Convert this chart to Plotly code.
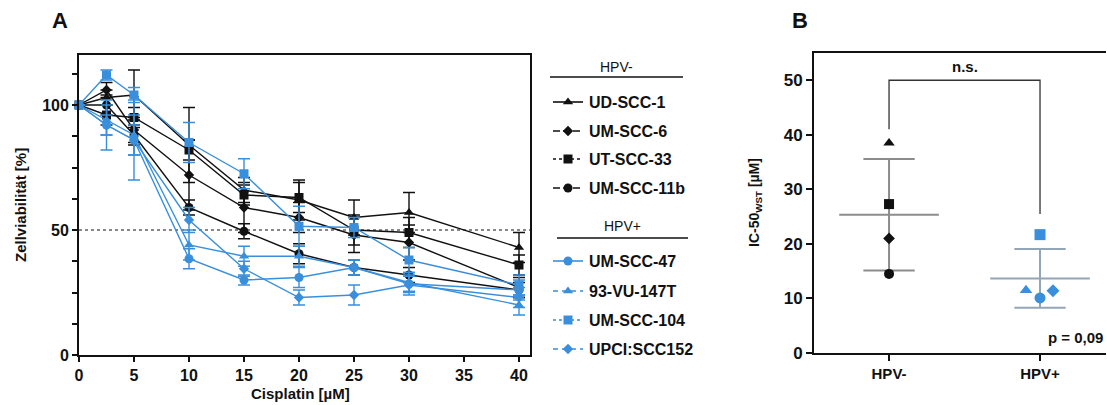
import numpy as np
import plotly.graph_objects as go

W, H = 1107, 405

# ---------------- data ----------------
conc = [0, 2.5, 5, 10, 15, 20, 25, 30, 40]  # cisplatin [µM]

# HPV-negative cell lines: viability [%] and SD
ud_scc_1 = [100, 103, 104, 84, 66, 62, 55, 57, 43]
ud_scc_1_sd = [0, 3, 10, 15, 5, 8, 7, 8, 6]
um_scc_6 = [100, 106, 90, 72, 59, 55, 48, 45, 27]
um_scc_6_sd = [0, 3, 5, 14, 10, 6, 7, 7, 4]
ut_scc_33 = [100, 96, 95, 82, 64, 63, 50, 49, 36]
ut_scc_33_sd = [0, 4, 4, 4, 4, 6, 6, 6, 4]
um_scc_11b = [100, 100, 88, 59, 49.5, 40.5, 35, 32, 26]
um_scc_11b_sd = [0, 4, 4, 3, 3, 4, 3, 3, 3]

# HPV-positive cell lines
um_scc_47 = [100, 92, 86, 38.5, 30, 31, 35, 28.5, 26]
um_scc_47_sd = [0, 4, 6, 4, 2, 4, 3, 3, 4]
vu_147t = [100, 94, 88, 44, 39.5, 39.5, 35, 29, 20]
vu_147t_sd = [0, 6, 8, 6, 4, 4, 3, 4, 4]
um_scc_104 = [100, 112, 104, 85, 72.5, 51.5, 51, 38, 28]
um_scc_104_sd = [0, 2, 3, 8, 6, 8, 4, 5, 4]
upci_scc152 = [100, 92, 86, 54, 34.5, 23, 24, 28, 23]
upci_scc152_sd = [0, 10, 16, 5, 3, 3, 4, 4, 4]

y_ticks_a = [0, 50, 100]
x_ticks_a = [0, 5, 10, 15, 20, 25, 30, 35, 40]

# IC-50 (WST) per cell line [µM]
groups = ["HPV-", "HPV+"]
ic50_hpv_neg = [38.5, 21.0, 27.3, 14.5]   # UD-SCC-1, UM-SCC-6, UT-SCC-33, UM-SCC-11b
ic50_hpv_pos = [10.1, 11.5, 21.7, 11.4]   # UM-SCC-47, 93-VU-147T, UM-SCC-104, UPCI:SCC152
y_ticks_b = [0, 10, 20, 30, 40, 50]
p_value_text = "p = 0,09"

# ---------------- styling ----------------
BLACK = "#111111"
BLUE = "#3a8fdc"
FONT = "Liberation Sans, Arial, Helvetica, sans-serif"
SYMBOLS = ["triangle-up", "diamond", "square", "circle"]
POS_SYMBOLS = ["circle", "triangle-up", "square", "diamond"]
NEG_DASH = ["solid", "7px,3px", "3px,3px", "7px,3px"]
POS_DASH = ["solid", "5px,4px", "3px,3px", "5px,4px"]

neg_series = [
    ("UD-SCC-1", ud_scc_1, ud_scc_1_sd),
    ("UM-SCC-6", um_scc_6, um_scc_6_sd),
    ("UT-SCC-33", ut_scc_33, ut_scc_33_sd),
    ("UM-SCC-11b", um_scc_11b, um_scc_11b_sd),
]
pos_series = [
    ("UM-SCC-47", um_scc_47, um_scc_47_sd),
    ("93-VU-147T", vu_147t, vu_147t_sd),
    ("UM-SCC-104", um_scc_104, um_scc_104_sd),
    ("UPCI:SCC152", upci_scc152, upci_scc152_sd),
]

fig = go.Figure()


def add_curve(name, vals, sd, color, symbol, size):
    fig.add_trace(go.Scatter(
        x=conc, y=vals, name=name, mode="lines+markers",
        line=dict(color=color, width=1.4),
        marker=dict(symbol=symbol, size=size, color=color),
        error_y=dict(type="data", array=sd, visible=True, color=color,
                     thickness=1.4, width=6),
        cliponaxis=False, showlegend=False,
        xaxis="x", yaxis="y",
    ))


for (name, vals, sd), sym in zip(neg_series, SYMBOLS):
    add_curve(name, vals, sd, BLACK, sym, 8 if sym == "diamond" else 9)
for (name, vals, sd), sym in zip(pos_series, POS_SYMBOLS):
    add_curve(name, vals, sd, BLUE, sym, 8 if sym == "diamond" else 9)

# ---------------- panel B scatter ----------------
pos_offsets = [0.0, -0.093, 0.0, 0.086]
for i, v in enumerate(ic50_hpv_neg):
    fig.add_trace(go.Scatter(
        x=[0], y=[v], mode="markers", showlegend=False,
        marker=dict(symbol=SYMBOLS[i], size=10 if SYMBOLS[i] != "diamond" else 9,
                    color=BLACK),
        xaxis="x2", yaxis="y2", cliponaxis=False,
    ))
for i, v in enumerate(ic50_hpv_pos):
    fig.add_trace(go.Scatter(
        x=[1 + pos_offsets[i]], y=[v], mode="markers", showlegend=False,
        marker=dict(symbol=POS_SYMBOLS[i], size=11 if POS_SYMBOLS[i] != "diamond" else 10,
                    color=BLUE),
        xaxis="x2", yaxis="y2", cliponaxis=False,
    ))

shapes = []
# 50 % reference line
shapes.append(dict(type="line", xref="x", yref="y", x0=0, x1=41, y0=50, y1=50,
                   line=dict(color=BLACK, width=1.2, dash="dot"), layer="below"))

# mean +/- SD for each group
for gx, vals, col in [(0, ic50_hpv_neg, "#8c8c8c"), (1, ic50_hpv_pos, "#93a6b8")]:
    m = float(np.mean(vals))
    s = float(np.std(vals, ddof=1))
    shapes += [
        dict(type="line", xref="x2", yref="y2", x0=gx - 0.33, x1=gx + 0.33, y0=m, y1=m,
             line=dict(color=col, width=2), layer="below"),
        dict(type="line", xref="x2", yref="y2", x0=gx - 0.17, x1=gx + 0.17, y0=m + s, y1=m + s,
             line=dict(color=col, width=2), layer="below"),
        dict(type="line", xref="x2", yref="y2", x0=gx - 0.17, x1=gx + 0.17, y0=m - s, y1=m - s,
             line=dict(color=col, width=2), layer="below"),
        dict(type="line", xref="x2", yref="y2", x0=gx, x1=gx, y0=m - s, y1=m + s,
             line=dict(color=col, width=2), layer="below"),
    ]

# significance bracket
shapes.append(dict(type="path", xref="x2", yref="y2",
                   path="M 0,41 L 0,50 L 1,50 L 1,25.5",
                   line=dict(color="#333333", width=1.3)))

# ---------------- custom legend (overlay axis in pixel units) ----------------
leg_x0, leg_x1, leg_xm, leg_tx = 553, 583, 568, 587


def legend_block(header, hy, line_y, line_x0, line_x1, rows_y, series, syms, dashes, color):
    annots = [dict(text=header, x=(line_x0 + line_x1) / 2, y=hy, xref="x3", yref="y3",
                   showarrow=False, font=dict(family=FONT, size=14, color=BLACK))]
    shapes.append(dict(type="line", xref="x3", yref="y3", x0=line_x0, x1=line_x1,
                       y0=line_y, y1=line_y, line=dict(color=BLACK, width=1.5)))
    for (name, _, _), ry, sym, dsh in zip(series, rows_y, syms, dashes):
        fig.add_trace(go.Scatter(
            x=[leg_x0, leg_x1], y=[ry, ry], mode="lines", showlegend=False,
            line=dict(color=color, width=1.6, dash=dsh), xaxis="x3", yaxis="y3",
            hoverinfo="skip", cliponaxis=False))
        fig.add_trace(go.Scatter(
            x=[leg_xm], y=[ry], mode="markers", showlegend=False,
            marker=dict(symbol=sym, size=8 if sym == "diamond" else 9, color=color),
            xaxis="x3", yaxis="y3", hoverinfo="skip", cliponaxis=False))
        annots.append(dict(text="<b>%s</b>" % name, x=leg_tx, y=ry, xref="x3", yref="y3",
                           xanchor="left", yanchor="middle", showarrow=False,
                           font=dict(family=FONT, size=16, color=BLACK)))
    return annots


annotations = []
annotations += legend_block("HPV-", 67, 77, 550, 683, [102, 131, 159, 188],
                            neg_series, SYMBOLS, NEG_DASH, BLACK)
annotations += legend_block("HPV+", 226, 238, 557, 688, [261, 291, 320, 349],
                            pos_series, POS_SYMBOLS, POS_DASH, BLUE)

# panel letters, titles, statistics text
annotations += [
    dict(text="<b>A</b>", x=60, y=20, xref="x3", yref="y3", showarrow=False,
         font=dict(family=FONT, size=22, color=BLACK)),
    dict(text="<b>B</b>", x=800, y=20, xref="x3", yref="y3", showarrow=False,
         font=dict(family=FONT, size=22, color=BLACK)),
    dict(text="<b>Zellviabilität [%]</b>", x=20, y=205, xref="x3", yref="y3",
         showarrow=False, textangle=-90, font=dict(family=FONT, size=15, color=BLACK)),
    dict(text="<b>Cisplatin [µM]</b>", x=300, y=393, xref="x3", yref="y3",
         showarrow=False, font=dict(family=FONT, size=15, color=BLACK)),
    dict(text="<b>IC-50<sub>WST</sub> [µM]</b>", x=755, y=203, xref="x3", yref="y3",
         showarrow=False, textangle=-90, font=dict(family=FONT, size=14, color=BLACK)),
    dict(text="<b>n.s.</b>", x=0.5, y=50, xref="x2", yref="y2", yanchor="bottom",
         yshift=3, showarrow=False, font=dict(family=FONT, size=15, color=BLACK)),
    dict(text="<b>%s</b>" % p_value_text, x=1075, y=337, xref="x3", yref="y3",
         showarrow=False, font=dict(family=FONT, size=15, color=BLACK)),
]

fig.update_layout(
    template="none",
    width=W, height=H, autosize=False,
    margin=dict(l=0, r=0, t=0, b=0, pad=0),
    paper_bgcolor="white", plot_bgcolor="rgba(0,0,0,0)",
    font=dict(family=FONT, color=BLACK),
    showlegend=False,
    shapes=shapes, annotations=annotations,
    xaxis=dict(domain=[79 / W, 530 / W], range=[0, 41], anchor="y", automargin=False,
               tickvals=x_ticks_a, ticktext=["<b>%d</b>" % t for t in x_ticks_a],
               ticks="outside", ticklen=5, tickwidth=1.8,
               tickcolor=BLACK, showline=True, linecolor=BLACK, linewidth=1.8,
               mirror=True, showgrid=False, zeroline=False,
               tickfont=dict(family=FONT, size=16, color=BLACK), fixedrange=True),
    yaxis=dict(domain=[(H - 355) / H, (H - 55) / H], range=[0, 120], anchor="x",
               automargin=False,
               tickvals=y_ticks_a, ticktext=["<b>%d</b>" % t for t in y_ticks_a],
               ticks="outside", ticklen=5, tickwidth=1.8, tickcolor=BLACK,
               minor=dict(dtick=12.5, tick0=0, ticks="outside", ticklen=5, tickwidth=1.8,
                          tickcolor=BLACK, showgrid=False),
               showline=True, linecolor=BLACK, linewidth=1.8, mirror=True,
               showgrid=False, zeroline=False,
               tickfont=dict(family=FONT, size=16, color=BLACK), fixedrange=True),
    xaxis2=dict(domain=[814 / W, 1106 / W], range=[-0.497, 1.437], anchor="y2",
                automargin=False,
                tickvals=[0, 1], ticktext=["<b>%s</b>" % g for g in groups],
                ticks="outside", ticklen=6, tickwidth=1.8, tickcolor=BLACK,
                showline=True, linecolor=BLACK, linewidth=1.8, mirror=True,
                showgrid=False, zeroline=False,
                tickfont=dict(family=FONT, size=15, color=BLACK), fixedrange=True),
    yaxis2=dict(domain=[(H - 353) / H, (H - 53) / H], range=[0, 55], anchor="x2",
                automargin=False,
                tickvals=y_ticks_b, ticktext=["<b>%d</b>" % t for t in y_ticks_b],
                ticks="outside", ticklen=6, tickwidth=1.8, tickcolor=BLACK,
                showline=True, linecolor=BLACK, linewidth=1.8, mirror=False,
                showgrid=False, zeroline=False,
                tickfont=dict(family=FONT, size=17, color=BLACK), fixedrange=True),
    xaxis3=dict(domain=[0, 1], range=[0, W], anchor="y3", visible=False,
                automargin=False, fixedrange=True),
    yaxis3=dict(domain=[0, 1], range=[H, 0], anchor="x3", visible=False,
                automargin=False, fixedrange=True),
)

fig.write_html("out.html")
